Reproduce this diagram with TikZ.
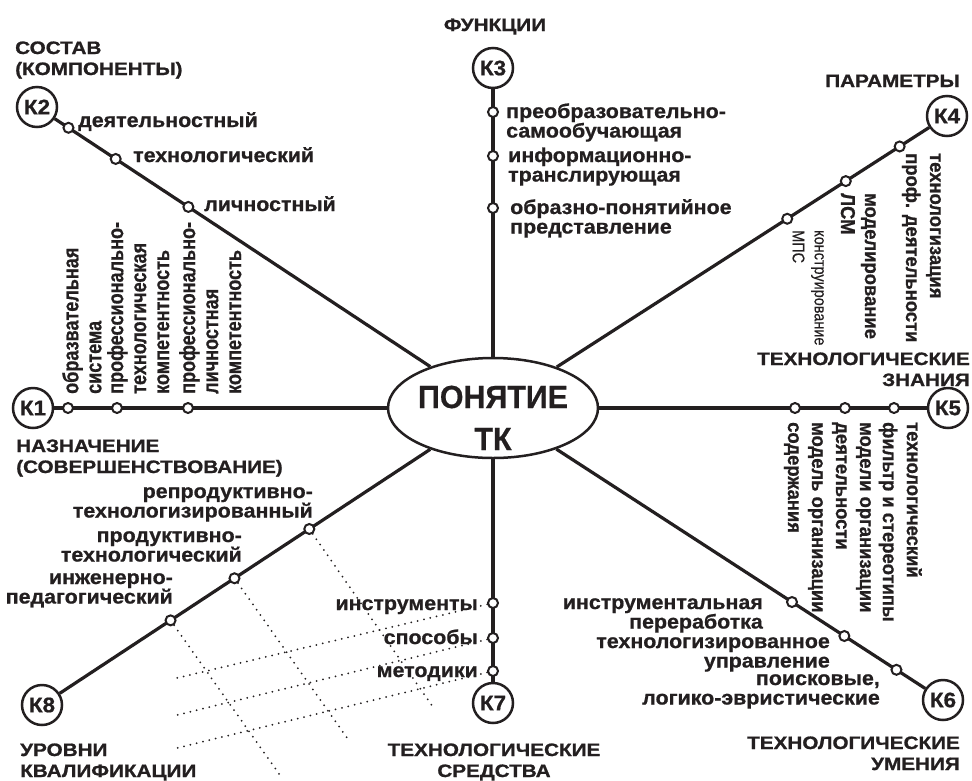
\documentclass[tikz,border=0pt]{standalone}
\usepackage{fontspec}
\setmainfont{Liberation Sans}
\newfontfamily\labf[FakeStretch=1.07,FakeBold=0.8]{Liberation Sans Bold}
\newfontfamily\titf[FakeStretch=1.15,FakeBold=1.0]{Liberation Sans Bold}
\newfontfamily\narf[FakeStretch=0.82,FakeBold=0.6]{Liberation Sans Bold}
\newfontfamily\vertf[FakeStretch=0.92,FakeBold=0.8]{Liberation Sans Bold}
\newfontfamily\smallf[FakeStretch=0.85,FakeBold=0.4]{Liberation Sans}
\newfontfamily\cenf[FakeStretch=0.95,FakeBold=0.5]{Liberation Sans Bold}
\usetikzlibrary{calc,shapes.geometric}
\definecolor{ink}{RGB}{35,31,32}
\tikzset{
  ln/.style={draw=ink, line width=3.2pt},
  lnh/.style={draw=ink, line width=3.8pt},
  kc/.style={circle, draw=ink, line width=2.5pt, minimum size=40pt, inner sep=0pt, fill=white, text=ink, font=\labf\fontsize{21}{21}\selectfont},
  dotn/.style={circle, draw=ink, line width=2pt, fill=white, minimum size=10pt, inner sep=0pt},
  dl/.style={draw=ink, line width=2pt, dash pattern=on 0pt off 6.5pt, line cap=round},
  hl/.style={text=ink, inner sep=0pt, font=\labf\fontsize{20}{19.5}\selectfont},
  tt/.style={text=ink, inner sep=0pt, font=\titf\fontsize{18}{21}\selectfont},
  vone/.style={text=ink, inner sep=0pt, rotate=90, anchor=north west, align=left, font=\narf\fontsize{22}{23}\selectfont},
  vtwo/.style={text=ink, inner sep=0pt, rotate=-90, anchor=north west, align=left, font=\vertf\fontsize{20}{24}\selectfont},
  vsm/.style={text=ink, inner sep=0pt, rotate=-90, anchor=north west, align=left, font=\smallf\fontsize{17}{22}\selectfont}
}
\begin{document}
\begin{tikzpicture}[x=1pt,y=-1pt]
\fill[white] (0,0) rectangle (972,780);
\path[use as bounding box] (0,0) rectangle (972,780);

% centre
\node[ellipse, draw=ink, line width=2.5pt, minimum width=210pt, minimum height=100pt, inner sep=0pt] (C) at (493,408) {};
\node[text=ink, inner sep=0pt, align=center, anchor=base, font=\cenf\fontsize{32}{42}\selectfont] (ttl) at (493,450) {ПОНЯТИЕ\\ТК};

% K nodes
\node[kc] (K1) at (33,408) {К1};
\node[kc] (K2) at (37,107) {К2};
\node[kc] (K3) at (493,68) {К3};
\node[kc] (K4) at (947,116) {К4};
\node[kc] (K5) at (948,408) {К5};
\node[kc] (K6) at (943,700) {К6};
\node[kc] (K7) at (493,703) {К7};
\node[kc] (K8) at (42,705) {К8};

% spokes
\foreach \k in {K1,K3,K5,K7} \draw[lnh] (\k) -- (C);
\foreach \k in {K2,K4,K6,K8} \draw[ln] (\k) -- (C);

% small nodes on spokes
\node[dotn] (a1) at ($(K1)!(68,408)!(C)$) {};
\node[dotn] (a2) at ($(K1)!(117,408)!(C)$) {};
\node[dotn] (a3) at ($(K1)!(188,408)!(C)$) {};
\node[dotn] (b1) at ($(K2)!(67,130)!(C)$) {};
\node[dotn] (b2) at ($(K2)!(115,160)!(C)$) {};
\node[dotn] (b3) at ($(K2)!(187,209)!(C)$) {};
\node[dotn] (c1) at (493,112) {};
\node[dotn] (c2) at (493,156) {};
\node[dotn] (c3) at (493,208) {};
\node[dotn] (d1) at ($(K4)!(900,147)!(C)$) {};
\node[dotn] (d2) at ($(K4)!(847,183)!(C)$) {};
\node[dotn] (d3) at ($(K4)!(788,220)!(C)$) {};
\node[dotn] (e1) at (795,408) {};
\node[dotn] (e2) at (845,408) {};
\node[dotn] (e3) at (894,408) {};
\node[dotn] (f1) at ($(K6)!(792,602)!(C)$) {};
\node[dotn] (f2) at ($(K6)!(845,635)!(C)$) {};
\node[dotn] (f3) at ($(K6)!(895,672)!(C)$) {};
\node[dotn] (g1) at (493,603) {};
\node[dotn] (g2) at (493,638) {};
\node[dotn] (g3) at (493,671) {};
\node[dotn] (h1) at ($(K8)!(310,530)!(C)$) {};
\node[dotn] (h2) at ($(K8)!(235,579)!(C)$) {};
\node[dotn] (h3) at ($(K8)!(171,621)!(C)$) {};

% dotted grid
\coordinate (hx1) at (433,707);
\coordinate (hx2) at (350,742);
\coordinate (hx3) at (282,778);
\coordinate (gx1) at (177,678);
\coordinate (gx2) at (177,715);
\coordinate (gx3) at (177,748);
\draw[dl] (h1) -- (hx1);
\draw[dl] (h2) -- (hx2);
\draw[dl] (h3) -- (hx3);
\draw[dl] (g1) -- (gx1);
\draw[dl] (g2) -- (gx2);
\draw[dl] (g3) -- (gx3);

% titles (base anchor = baseline of the last line)
\node[tt, anchor=base west, align=left] (t2) at (15,75) {СОСТАВ\\(КОМПОНЕНТЫ)};
\node[tt, anchor=base] (t3) at (495,31) {ФУНКЦИИ};
\node[tt, anchor=base east] (t4) at (960,87) {ПАРАМЕТРЫ};
\node[tt, anchor=base east, align=right] (t5) at (970,386) {ТЕХНОЛОГИЧЕСКИЕ\\ЗНАНИЯ};
\node[tt, anchor=base west, align=left] (t1) at (16,473) {НАЗНАЧЕНИЕ\\(СОВЕРШЕНСТВОВАНИЕ)};
\node[tt, anchor=base west, align=left] (t8) at (20,777) {УРОВНИ\\КВАЛИФИКАЦИИ};
\node[tt, anchor=base, align=center] (t7) at (494,777) {ТЕХНОЛОГИЧЕСКИЕ\\СРЕДСТВА};
\node[tt, anchor=base east, align=right] (t6) at (960,770) {ТЕХНОЛОГИЧЕСКИЕ\\УМЕНИЯ};

% K2 labels
\node[hl, anchor=base west] (lb1) at (78,127) {деятельностный};
\node[hl, anchor=base west] (lb2) at (133,162) {технологический};
\node[hl, anchor=base west] (lb3) at (204,211) {личностный};
% K3 labels
\node[hl, anchor=base west, align=left] (lc1) at (506,137.5) {преобразовательно-\\самообучающая};
\node[hl, anchor=base west, align=left] (lc2) at (508,181.5) {информационно-\\транслирующая};
\node[hl, anchor=base west, align=left] (lc3) at (510,233.5) {образно-понятийное\\представление};
% K8 labels
\node[hl, anchor=base east, align=right] (lh1) at (313,517.5) {репродуктивно-\\технологизированный};
\node[hl, anchor=base east, align=right] (lh2) at (242,561.5) {продуктивно-\\технологический};
\node[hl, anchor=base east, align=right] (lh3) at (173,603.5) {инженерно-\\педагогический};
% K6 labels
\node[hl, anchor=base east, align=right] (lf1) at (763,628.5) {инструментальная\\переработка};
\node[hl, anchor=base east, align=right] (lf2) at (830,667.5) {технологизированное\\управление};
\node[hl, anchor=base east, align=right] (lf3) at (880,704.5) {поисковые,\\логико-эвристические};
% K7 labels
\node[hl, anchor=base east] (lg1) at (478,610) {инструменты};
\node[hl, anchor=base east] (lg2) at (478,644) {способы};
\node[hl, anchor=base east] (lg3) at (478,677) {методики};

% K1 vertical labels
\node[vone] (la1) at (62,394) {образвательная\\система};
\node[vone] (la2) at (107,394) {профессионально-\\технологическая\\компетентность};
\node[vone] (la3) at (179,394) {профессионально-\\личностная\\компетентность};

% K4 vertical labels
\node[vtwo] (ld1) at (941,153) {технологизация\\проф. деятельности};
\node[vtwo] (ld2) at (876,193) {моделирование\\ЛСМ};
\node[vsm] (ld3) at (824,230) {конструирование\\МПС};

% K5 vertical labels
\node[vtwo] (le1) at (823,422) {модель организации\\содержания};
\node[vtwo] (le2) at (871,422) {модели организации\\деятельности};
\node[vtwo] (le3) at (922,422) {технологический\\фильтр и стереотипы};
\end{tikzpicture}
\end{document}
